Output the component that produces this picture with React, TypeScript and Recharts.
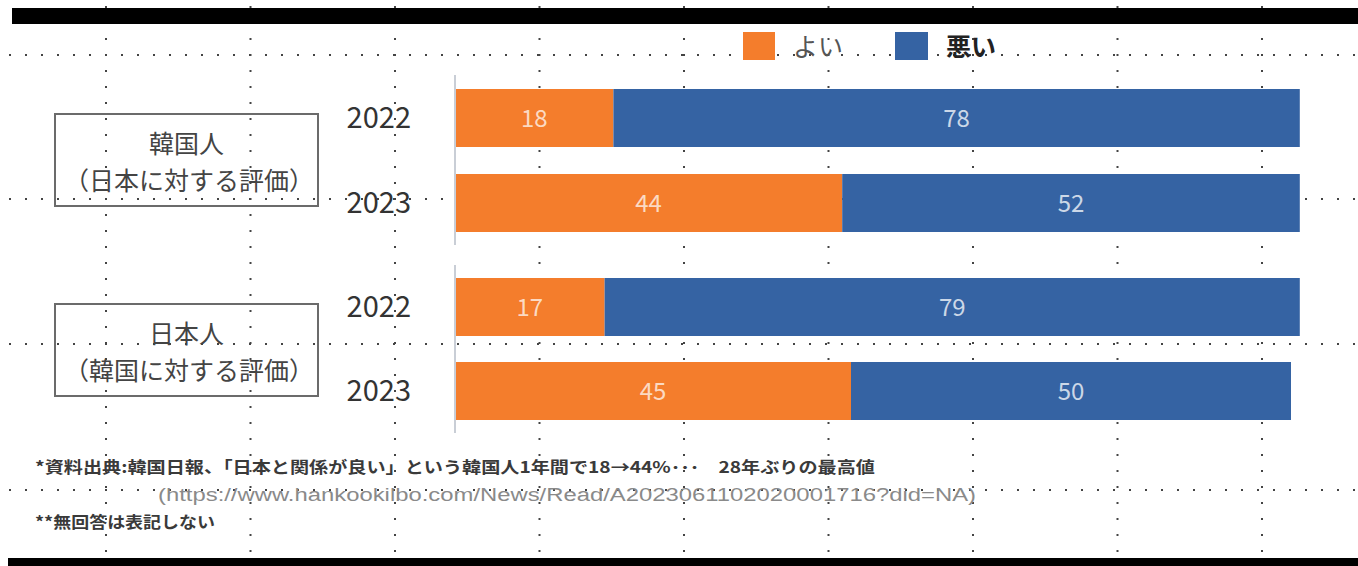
import React from "react";
import { BarChart, Bar, XAxis, YAxis, LabelList } from "recharts";

const years = ["2022", "2023"];
const koreanGood = [18, 44];
const koreanBad = [78, 52];
const japaneseGood = [17, 45];
const japaneseBad = [79, 50];
const seriesNames = ["よい", "悪い"];
const groupTitles = ["韓国人", "日本人"];
const groupSubtitles = ["（日本に対する評価）", "（韓国に対する評価）"];
const sourceNote = "*資料出典:韓国日報、「日本と関係が良い」という韓国人1年間で18→44%･･･　28年ぶりの最高値";
const sourceUrl = "(https://www.hankookilbo.com/News/Read/A2023061102020001716?did=NA)";
const noAnswerNote = "**無回答は表記しない";

const ORANGE = "#F47D2C";
const BLUE = "#3563A3";
const FONT = "'Noto Sans CJK JP', 'Noto Sans', sans-serif";

const toRows = (good: number[], bad: number[]) =>
  years.map((year, i) => ({ year, good: good[i], bad: bad[i] }));

// background dotted guide grid of the original slide screenshot
const DotGrid = () => {
  const cols = Array.from({ length: 9 }, (_, i) => 106 + i * 144.5);
  const rows = [55, 199, 344, 490];
  return (
    <svg width={1358} height={566} style={{ position: "absolute", left: 0, top: 0 }}>
      {rows.map((y) => (
        <line key={"r" + y} x1={0} x2={1358} y1={y} y2={y} stroke="#444" strokeWidth={2}
          strokeDasharray="2 14" strokeDashoffset={-9} />
      ))}
      {cols.map((x) => (
        <line key={"c" + x} x1={x} x2={x} y1={0} y2={566} stroke="#444" strokeWidth={2}
          strokeDasharray="2 14" strokeDashoffset={-6} />
      ))}
    </svg>
  );
};

type GroupProps = { good: number[]; bad: number[]; top: number; height: number };

const GroupChart = ({ good, bad, top, height }: GroupProps) => (
  <div style={{ position: "absolute", left: 330, top }}>
    <BarChart
      layout="vertical"
      width={1028}
      height={height}
      data={toRows(good, bad)}
      margin={{ top: 0, right: 23, bottom: 0, left: 0 }}
    >
      <XAxis type="number" domain={[0, 100]} hide />
      <YAxis
        type="category"
        dataKey="year"
        width={125}
        axisLine={{ stroke: "#c9ced6", strokeWidth: 2 }}
        tickLine={false}
        tickMargin={38}
        tick={{ fontSize: 29, fill: "#333", fontFamily: FONT }}
      />
      <Bar dataKey="good" name={seriesNames[0]} stackId="a" fill={ORANGE} barSize={58} isAnimationActive={false}>
        <LabelList dataKey="good" position="center" fill="rgba(255,255,255,0.72)" fontSize={24} fontFamily={FONT} />
      </Bar>
      <Bar dataKey="bad" name={seriesNames[1]} stackId="a" fill={BLUE} barSize={58} isAnimationActive={false}>
        <LabelList dataKey="bad" position="center" fill="rgba(255,255,255,0.75)" fontSize={24} fontFamily={FONT} />
      </Bar>
    </BarChart>
  </div>
);

const GroupBox = ({ title, subtitle, top }: { title: string; subtitle: string; top: number }) => (
  <div
    style={{
      position: "absolute",
      left: 54,
      top,
      width: 265,
      height: 94,
      boxSizing: "border-box",
      border: "2px solid #6b6b6b",
      fontFamily: FONT,
      fontSize: 25,
      color: "#444",
      lineHeight: "37px",
      paddingTop: 9,
      whiteSpace: "nowrap",
    }}
  >
    <div style={{ textAlign: "center" }}>{title}</div>
    <div style={{ paddingLeft: 8 }}>{subtitle}</div>
  </div>
);

export default function App() {
  return (
    <div
      style={{
        position: "absolute",
        left: 0,
        top: 0,
        width: 1358,
        height: 566,
        background: "#fff",
        overflow: "hidden",
        fontFamily: FONT,
      }}
    >
      <DotGrid />
      <div style={{ position: "absolute", left: 12, top: 8, width: 1346, height: 16, background: "#000" }} />
      <div style={{ position: "absolute", left: 8, top: 558, width: 1350, height: 8, background: "#000" }} />

      {/* legend */}
      <div style={{ position: "absolute", left: 743, top: 32, width: 32, height: 28, background: ORANGE }} />
      <div style={{ position: "absolute", left: 793, top: 28, fontSize: 25, color: "#555", lineHeight: "34px" }}>
        {seriesNames[0]}
      </div>
      <div style={{ position: "absolute", left: 895, top: 32, width: 33, height: 28, background: BLUE }} />
      <div style={{ position: "absolute", left: 946, top: 28, fontSize: 25, color: "#222", fontWeight: 700, lineHeight: "34px" }}>
        {seriesNames[1]}
      </div>

      <GroupBox title={groupTitles[0]} subtitle={groupSubtitles[0]} top={113} />
      <GroupBox title={groupTitles[1]} subtitle={groupSubtitles[1]} top={303} />

      <GroupChart good={koreanGood} bad={koreanBad} top={75} height={170} />
      <GroupChart good={japaneseGood} bad={japaneseBad} top={265} height={168} />

      <svg width={1358} height={566} style={{ position: "absolute", left: 0, top: 0 }}>
        <text x={35} y={473} fontSize={16} fontWeight={700} fill="#3a3a3a" fontFamily={FONT}
          textLength={840} lengthAdjust="spacingAndGlyphs">
          {sourceNote}
        </text>
        <text x={158} y={501} fontSize={18} fill="#8a8a8a" fontFamily="'Liberation Sans', Arial, sans-serif"
          textLength={818} lengthAdjust="spacingAndGlyphs">
          {sourceUrl}
        </text>
        <text x={35} y={528} fontSize={16} fontWeight={700} fill="#3a3a3a" fontFamily={FONT}
          textLength={180} lengthAdjust="spacingAndGlyphs">
          {noAnswerNote}
        </text>
      </svg>
    </div>
  );
}
